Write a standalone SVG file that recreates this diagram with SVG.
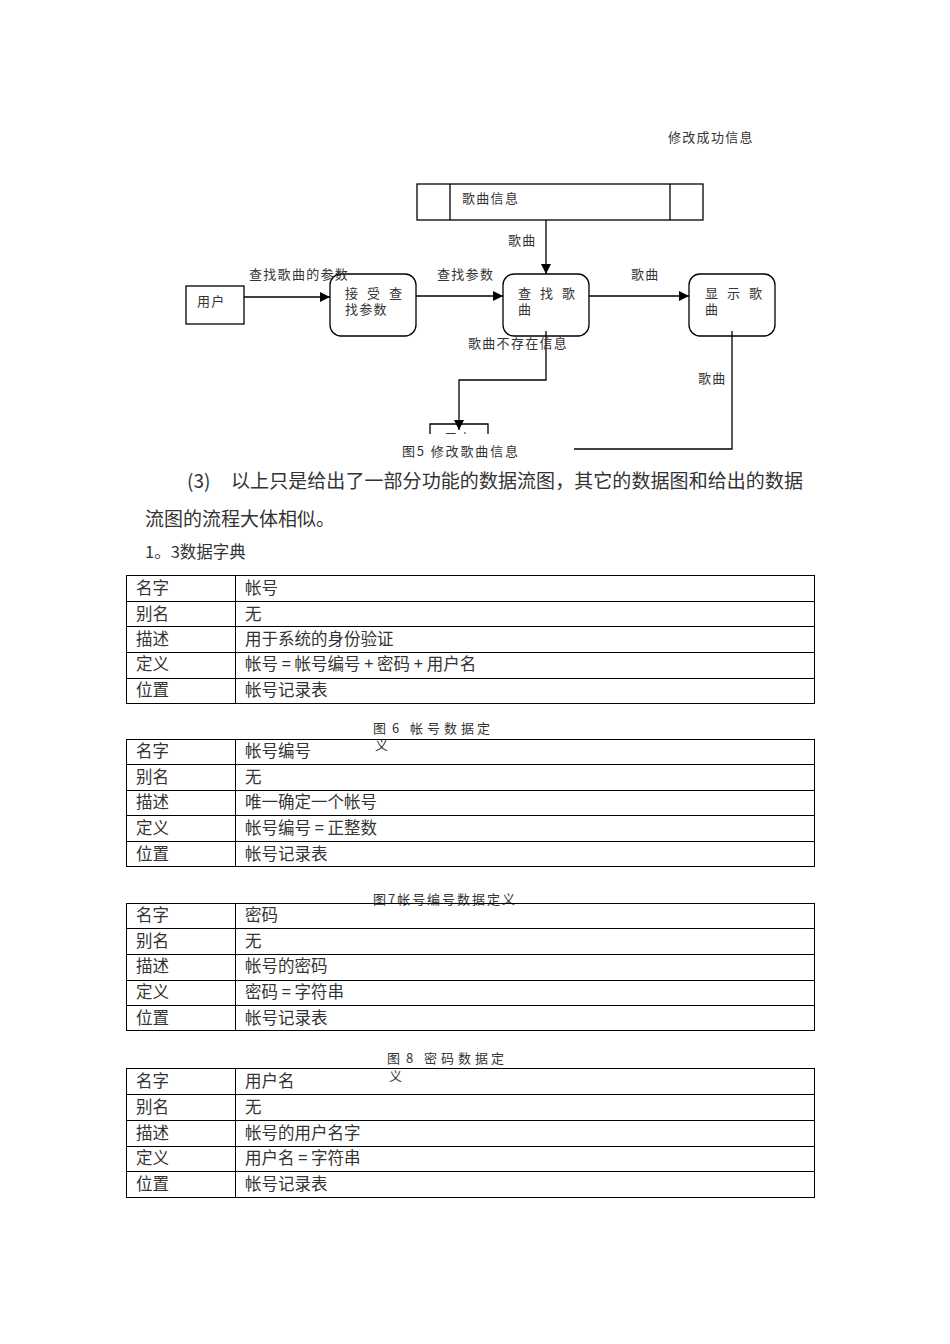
<svg xmlns="http://www.w3.org/2000/svg" width="950" height="1344" viewBox="0 0 950 1344">
<style>
text{font-family:"Noto Sans CJK SC","Liberation Sans",sans-serif;fill:#333}
.d{font-size:13px;letter-spacing:1.3px}
.b{font-size:19px}
.t{font-size:16.5px}
.c{font-size:13px}
.box{fill:#fff;stroke:#000;stroke-width:1.3}
.ln{fill:none;stroke:#000;stroke-width:1.3}
.tb{fill:none;stroke:#000;stroke-width:1}
</style>
<defs>
<marker id="ah" viewBox="0 0 10 10" refX="10" refY="5" markerWidth="10" markerHeight="10" markerUnits="userSpaceOnUse" orient="auto">
<path d="M0,0 L10,5 L0,10 z" fill="#000"/>
</marker>
<clipPath id="cut"><rect x="0" y="0" width="950" height="434"/></clipPath>
</defs>
<rect width="950" height="1344" fill="#fff"/>

<text class="d" x="668" y="142">修改成功信息</text>

<g id="store">
<rect class="box" x="417" y="184" width="286" height="36"/>
<line class="ln" x1="450" y1="184" x2="450" y2="220"/>
<line class="ln" x1="670" y1="184" x2="670" y2="220"/>
<text class="d" x="462" y="203">歌曲信息</text>
</g>

<g id="user">
<rect class="box" x="186" y="286" width="58" height="38"/>
<text class="d" x="197" y="306">用户</text>
</g>

<g id="recv">
<rect class="box" x="330" y="274" width="86" height="62" rx="11"/>
<text class="d" x="345 367 389" y="298">接受查</text>
<text class="d" x="345" y="314">找参数</text>
</g>

<g id="find">
<rect class="box" x="503" y="274" width="86" height="62" rx="11"/>
<text class="d" x="518 540 562" y="298">查找歌</text>
<text class="d" x="518" y="314">曲</text>
</g>

<g id="show">
<rect class="box" x="689" y="274" width="86" height="62" rx="11"/>
<text class="d" x="705 727 749" y="298">显示歌</text>
<text class="d" x="705" y="314">曲</text>
</g>

<g id="user2" clip-path="url(#cut)">
<path class="ln" d="M430,436 V424 H488 V436"/>
<text class="d" x="444" y="443">用户</text>
</g>

<g id="connectors">
<line class="ln" x1="546" y1="220" x2="546" y2="274" marker-end="url(#ah)"/>
<line class="ln" x1="244" y1="297" x2="330" y2="297" marker-end="url(#ah)"/>
<line class="ln" x1="416" y1="296" x2="503" y2="296" marker-end="url(#ah)"/>
<line class="ln" x1="589" y1="296" x2="689" y2="296" marker-end="url(#ah)"/>
<polyline class="ln" points="546,331 546,380 459,380 459,430" marker-end="url(#ah)"/>
<polyline class="ln" points="732,331 732,449 574,449"/>
<text class="d" x="508" y="245">歌曲</text>
<text class="d" x="249" y="279">查找歌曲的参数</text>
<text class="d" x="437" y="279">查找参数</text>
<text class="d" x="631" y="279">歌曲</text>
<text class="d" x="468" y="348">歌曲不存在信息</text>
<text class="d" x="698" y="383">歌曲</text>
</g>

<rect x="400" y="438" width="170" height="4" fill="#fff"/>
<text class="c" x="402" y="456" textLength="116" lengthAdjust="spacing">图5 修改歌曲信息</text>

<text class="b" x="187" y="488">(3)</text>
<text class="b" x="231" y="488" textLength="572" lengthAdjust="spacing">以上只是给出了一部分功能的数据流图，其它的数据图和给出的数据</text>
<text class="b" x="145" y="526">流图的流程大体相似。</text>
<text class="t" x="145" y="558">1。3数据字典</text>

<g id="table1">
<rect class="tb" x="126.5" y="575.5" width="688" height="128"/>
<line class="tb" x1="235.5" y1="575" x2="235.5" y2="703"/>
<line class="tb" x1="126" y1="601.5" x2="815" y2="601.5"/>
<line class="tb" x1="126" y1="626.5" x2="815" y2="626.5"/>
<line class="tb" x1="126" y1="652.5" x2="815" y2="652.5"/>
<line class="tb" x1="126" y1="678.5" x2="815" y2="678.5"/>
<text class="t" x="136" y="594">名字</text><text class="t" x="245" y="594">帐号</text>
<text class="t" x="136" y="620">别名</text><text class="t" x="245" y="620">无</text>
<text class="t" x="136" y="645">描述</text><text class="t" x="245" y="645">用于系统的身份验证</text>
<text class="t" x="136" y="670">定义</text><text class="t" x="245" y="670">帐号 = 帐号编号 + 密码 + 用户名</text>
<text class="t" x="136" y="696">位置</text><text class="t" x="245" y="696">帐号记录表</text>
</g>

<text class="c" x="373 392 410 427 444 461 477" y="733">图6帐号数据定</text>
<text class="c" x="375" y="750">义</text>

<g id="table2">
<rect class="tb" x="126.5" y="739.5" width="688" height="127"/>
<line class="tb" x1="235.5" y1="739" x2="235.5" y2="867"/>
<line class="tb" x1="126" y1="764.5" x2="815" y2="764.5"/>
<line class="tb" x1="126" y1="790.5" x2="815" y2="790.5"/>
<line class="tb" x1="126" y1="815.5" x2="815" y2="815.5"/>
<line class="tb" x1="126" y1="841.5" x2="815" y2="841.5"/>
<text class="t" x="136" y="757">名字</text><text class="t" x="245" y="757">帐号编号</text>
<text class="t" x="136" y="783">别名</text><text class="t" x="245" y="783">无</text>
<text class="t" x="136" y="808">描述</text><text class="t" x="245" y="808">唯一确定一个帐号</text>
<text class="t" x="136" y="834">定义</text><text class="t" x="245" y="834">帐号编号 = 正整数</text>
<text class="t" x="136" y="860">位置</text><text class="t" x="245" y="860">帐号记录表</text>
</g>

<text class="c" x="373" y="904" textLength="142" lengthAdjust="spacing">图7帐号编号数据定义</text>

<g id="table3">
<rect class="tb" x="126.5" y="903.5" width="688" height="127"/>
<line class="tb" x1="235.5" y1="903" x2="235.5" y2="1031"/>
<line class="tb" x1="126" y1="928.5" x2="815" y2="928.5"/>
<line class="tb" x1="126" y1="954.5" x2="815" y2="954.5"/>
<line class="tb" x1="126" y1="980.5" x2="815" y2="980.5"/>
<line class="tb" x1="126" y1="1005.5" x2="815" y2="1005.5"/>
<text class="t" x="136" y="921">名字</text><text class="t" x="245" y="921">密码</text>
<text class="t" x="136" y="947">别名</text><text class="t" x="245" y="947">无</text>
<text class="t" x="136" y="972">描述</text><text class="t" x="245" y="972">帐号的密码</text>
<text class="t" x="136" y="998">定义</text><text class="t" x="245" y="998">密码 = 字符串</text>
<text class="t" x="136" y="1024">位置</text><text class="t" x="245" y="1024">帐号记录表</text>
</g>

<text class="c" x="387 406 424 441 458 475 491" y="1063">图8密码数据定</text>
<text class="c" x="389" y="1081">义</text>

<g id="table4">
<rect class="tb" x="126.5" y="1068.5" width="688" height="129"/>
<line class="tb" x1="235.5" y1="1068" x2="235.5" y2="1197"/>
<line class="tb" x1="126" y1="1094.5" x2="815" y2="1094.5"/>
<line class="tb" x1="126" y1="1120.5" x2="815" y2="1120.5"/>
<line class="tb" x1="126" y1="1146.5" x2="815" y2="1146.5"/>
<line class="tb" x1="126" y1="1171.5" x2="815" y2="1171.5"/>
<text class="t" x="136" y="1087">名字</text><text class="t" x="245" y="1087">用户名</text>
<text class="t" x="136" y="1113">别名</text><text class="t" x="245" y="1113">无</text>
<text class="t" x="136" y="1139">描述</text><text class="t" x="245" y="1139">帐号的用户名字</text>
<text class="t" x="136" y="1164">定义</text><text class="t" x="245" y="1164">用户名 = 字符串</text>
<text class="t" x="136" y="1190">位置</text><text class="t" x="245" y="1190">帐号记录表</text>
</g>
</svg>
